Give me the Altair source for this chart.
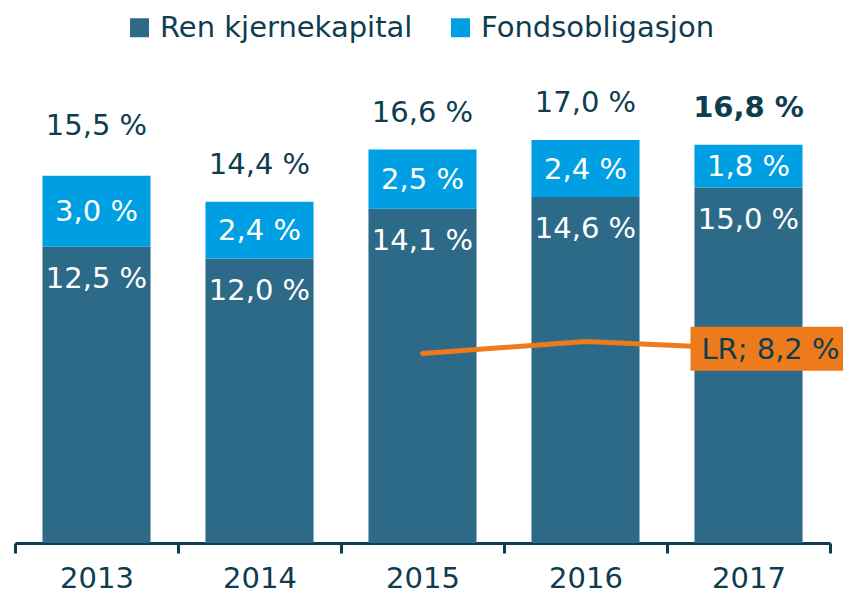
import altair as alt
import pandas as pd

years = ["2013", "2014", "2015", "2016", "2017"]
ren = [12.5, 12.0, 14.1, 14.6, 15.0]
fond = [3.0, 2.4, 2.5, 2.4, 1.8]
total = [15.5, 14.4, 16.6, 17.0, 16.8]
lr_years = ["2015", "2016", "2017"]
lr = [8.0, 8.5, 8.2]
lr_label = "LR; 8,2 %"

DARK = "#2D6A88"
LIGHT = "#009FE3"
ORANGE = "#EE7B1B"
TXT = "#0E3D4F"
FONT = "DejaVu Sans"
FS = 29

def fmt(v):
    return f"{v:.1f}".replace(".", ",") + " %"

rows = []
for y, r, f in zip(years, ren, fond):
    rows.append({"year": y, "series": "Ren kjernekapital", "start": 0, "end": r, "mid": r / 2, "label": fmt(r)})
    rows.append({"year": y, "series": "Fondsobligasjon", "start": r, "end": r + f, "mid": r + f / 2, "label": fmt(f)})
bars_df = pd.DataFrame(rows)
tot_df = pd.DataFrame({"year": years, "total": total, "label": [fmt(t) for t in total]})
lr_df = pd.DataFrame({"year": lr_years, "lr": lr})
lab_df = pd.DataFrame({"year": [lr_years[-1]], "lr": [lr[-1]], "label": [lr_label]})

x = alt.X("year:N", title=None, sort=years,
          scale=alt.Scale(paddingInner=0, paddingOuter=0),
          axis=alt.Axis(labelAngle=0, labelFont=FONT, labelFontSize=FS, labelColor=TXT,
                        domainColor=TXT, domainWidth=3, tickColor=TXT, tickWidth=3,
                        tickSize=10, tickBand="extent", labelPadding=11))
yscale = alt.Scale(domain=[0, 20], nice=False)

bars = alt.Chart(bars_df).mark_bar(width={"band": 0.663}).encode(
    x=x,
    y=alt.Y("start:Q", scale=yscale, axis=None),
    y2="end:Q",
    color=alt.Color("series:N", sort=["Ren kjernekapital", "Fondsobligasjon"],
                    scale=alt.Scale(domain=["Ren kjernekapital", "Fondsobligasjon"], range=[DARK, LIGHT]),
                    legend=alt.Legend(title=None, orient="none", legendX=110, legendY=-56,
                                      direction="horizontal", columns=2, columnPadding=33,
                                      labelFont=FONT, labelFontSize=FS, labelColor=TXT,
                                      symbolType="square", symbolSize=360, symbolStrokeWidth=0,
                                      labelOffset=6, labelLimit=400)),
)

light_lab = alt.Chart(bars_df).transform_filter(alt.datum.series == "Fondsobligasjon").mark_text(
    font=FONT, fontSize=FS, color="white", baseline="middle", dy=1
).encode(x=alt.X("year:N", sort=years), y=alt.Y("mid:Q", scale=yscale), text="label:N")

dark_lab = alt.Chart(bars_df).transform_filter(alt.datum.series == "Ren kjernekapital").mark_text(
    font=FONT, fontSize=FS, color="white", baseline="middle", dy=32
).encode(x=alt.X("year:N", sort=years), y=alt.Y("end:Q", scale=yscale), text="label:N")

tot_base = alt.Chart(tot_df).encode(x=alt.X("year:N", sort=years), y=alt.Y("total:Q", scale=yscale), text="label:N")
tot_first = tot_base.transform_filter(alt.datum.year == years[0]).mark_text(
    font=FONT, fontSize=FS, color=TXT, baseline="middle", dy=-50)
tot_mid = tot_base.transform_filter((alt.datum.year != years[0]) & (alt.datum.year != years[-1])).mark_text(
    font=FONT, fontSize=FS, color=TXT, baseline="middle", dy=-37)
tot_last = tot_base.transform_filter(alt.datum.year == years[-1]).mark_text(
    font=FONT, fontSize=FS, color=TXT, fontWeight="bold", baseline="middle", dy=-37)

line = alt.Chart(lr_df).mark_line(color=ORANGE, strokeWidth=5, strokeCap="round").encode(
    x=alt.X("year:N", sort=years), y=alt.Y("lr:Q", scale=yscale))

box = alt.Chart(lab_df).mark_point(
    shape="M-1,-0.275L1,-0.275L1,0.275L-1,0.275Z", size=160 * 160, filled=True,
    fill=ORANGE, opacity=1, strokeWidth=0, xOffset=22
).encode(x=alt.X("year:N", sort=years), y=alt.Y("lr:Q", scale=yscale))

box_text = alt.Chart(lab_df).mark_text(
    font=FONT, fontSize=FS, color=TXT, baseline="middle", dx=22, dy=1
).encode(x=alt.X("year:N", sort=years), y=alt.Y("lr:Q", scale=yscale), text="label:N")

chart = alt.layer(bars, light_lab, dark_lab, tot_first, tot_mid, tot_last, line, box, box_text).properties(
    width=815, height=474,
    autosize=alt.AutoSizeParams(type="none"),
    padding={"left": 7, "top": 61, "right": 13, "bottom": 52},
).configure_view(stroke=None)

chart.save("out.html", embed_options={"renderer": "svg", "actions": False})
